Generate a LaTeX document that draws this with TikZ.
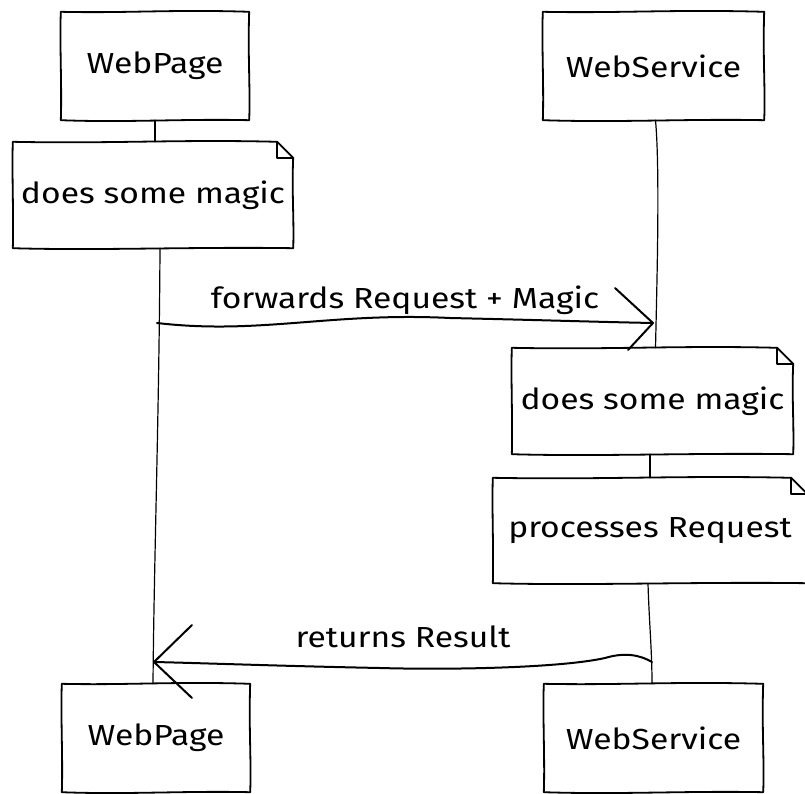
\documentclass[tikz,border=0pt]{standalone}
\usepackage{fontspec}
\setmainfont{Fira Sans}[FakeStretch=1.16]
\usetikzlibrary{calc}

% hand-drawn looking outlines
\newcommand\sketchrect[1]{%
  \draw[sketch] (#1.north west)
    .. controls ($(#1.north west)!.35!(#1.north east)+(0,1.5)$) and ($(#1.north west)!.6!(#1.north east)+(0,-2.5)$) .. (#1.north east)
    .. controls ($(#1.north east)!.4!(#1.south east)+(-1.5,0)$) and ($(#1.north east)!.7!(#1.south east)+(1.2,0)$) .. (#1.south east)
    .. controls ($(#1.south east)!.35!(#1.south west)+(0,-1.5)$) and ($(#1.south east)!.65!(#1.south west)+(0,2.5)$) .. (#1.south west)
    .. controls ($(#1.south west)!.3!(#1.north west)+(1.2,0)$) and ($(#1.south west)!.7!(#1.north west)+(-1.2,0)$) .. cycle;}
\newcommand\sketchnote[1]{%
  \draw[sketch] (#1.north west)
    .. controls ($(#1.north west)!.35!(#1.north east)+(0,2)$) and ($(#1.north west)!.6!(#1.north east)+(0,-2.5)$) .. ($(#1.north east)+(-16,0)$)
    -- ($(#1.north east)+(0,16)$)
    .. controls ($(#1.north east)!.45!(#1.south east)+(-1.5,0)$) and ($(#1.north east)!.75!(#1.south east)+(1,0)$) .. (#1.south east)
    .. controls ($(#1.south east)!.35!(#1.south west)+(0,-1.5)$) and ($(#1.south east)!.7!(#1.south west)+(0,2.5)$) .. (#1.south west)
    .. controls ($(#1.south west)!.3!(#1.north west)+(1,0)$) and ($(#1.south west)!.7!(#1.north west)+(-1,0)$) .. cycle;
  \draw[sketch] ($(#1.north east)+(-16,0)$) -- ($(#1.north east)+(-16,16)$) -- ($(#1.north east)+(0,16)$);}

\tikzset{
  sketch/.style={line width=1.8pt, line join=round, line cap=round},
  lifeline/.style={line width=1.2pt, line cap=round},
  msg/.style={line width=2pt, line cap=round, line join=round},
  handfont/.style={font=\fontsize{29}{33}\selectfont},
  actor/.style={draw=none, minimum height=108pt, inner sep=0pt, handfont},
  notebox/.style={draw=none, minimum height=106pt, inner sep=0pt, handfont},
  msglabel/.style={inner sep=0pt, handfont}
}

\begin{document}
\begin{tikzpicture}[x=1pt, y=-1pt]
\useasboundingbox (0,0) rectangle (805,794);

% participants
\node[actor, minimum width=188pt] (wpT) at (155,66) {WebPage};
\node[actor, minimum width=221pt] (wsT) at (653.5,66) {WebService};
\node[actor, minimum width=188pt] (wpB) at (156,738) {WebPage};
\node[actor, minimum width=219pt] (wsB) at (653.5,738) {WebService};

% notes
\node[notebox, minimum width=280pt] (note1) at (153,195) {does some magic};
\node[notebox, minimum width=281pt] (note2) at (652.5,401) {does some magic};
\node[notebox, minimum width=314pt, minimum height=105pt] (note3) at (650,530.5) {processes Request};

% lifelines
\draw[lifeline] (wpT.south) -- (wpT.south |- note1.north);
\draw[lifeline] ($(note1.south)+(7,0)$) .. controls (159,420) and (154,560) .. ($(wpB.north)+(-3,0)$);
\draw[lifeline] ($(wsT.south)+(2,0)$) .. controls (660,170) and (657,280) .. ($(note2.north)+(3,0)$);
\draw[lifeline] ($(note2.south)+(-2.5,0)$) -- (note3.north);
\draw[lifeline] ($(note3.south)+(-2,0)$) .. controls (649,620) and (652,650) .. ($(wsB.north)+(-1.5,0)$);

% outlines
\sketchrect{wpT}
\sketchrect{wsT}
\sketchrect{wpB}
\sketchrect{wsB}
\sketchnote{note1}
\sketchnote{note2}
\sketchnote{note3}

% messages
\coordinate (fwdS) at (157,323);
\coordinate (fwdE) at (653,323);
\draw[msg] (fwdS) .. controls (260,335) and (330,312) .. (450,318) .. controls (540,320) and (600,322) .. (fwdE);
\draw[msg] ($(fwdE)+(-38,-35)$) -- (fwdE) -- ($(fwdE)+(-25,27)$);
\node[msglabel] (fwdL) at (405,300) {forwards Request + Magic};

\coordinate (retS) at (652,662);
\coordinate (retE) at (154,662);
\draw[msg] (retS) .. controls (640,655) and (625,652) .. (605,658) .. controls (560,668) and (450,670) .. (380,668) .. controls (280,666) and (200,663) .. (retE);
\draw[msg] ($(retE)+(38,-37)$) -- (retE) -- ($(retE)+(38,36)$);
\node[msglabel] (retL) at (403,637) {returns Result};
\end{tikzpicture}
\end{document}
